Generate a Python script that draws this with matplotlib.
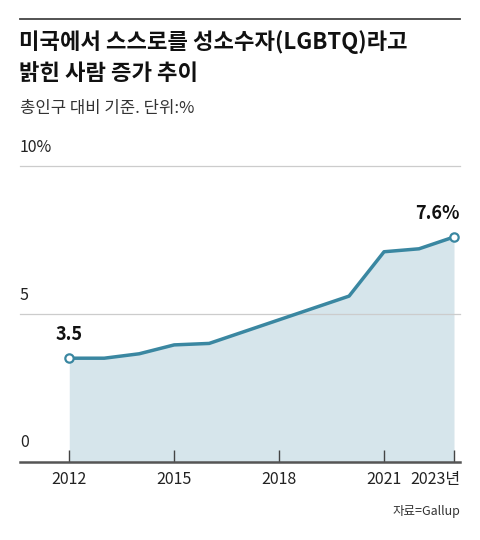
import matplotlib.pyplot as plt
from matplotlib.lines import Line2D

plt.rcParams['font.family'] = ['Noto Sans CJK KR', 'DejaVu Sans']

# 데이터 (Gallup, 총인구 대비 %)
years = [2012, 2013, 2014, 2015, 2016, 2020, 2021, 2022, 2023]
values = [3.5, 3.5, 3.65, 3.95, 4.0, 5.6, 7.1, 7.2, 7.6]
tick_years = [2012, 2015, 2018, 2021, 2023]
tick_labels = ['2012', '2015', '2018', '2021', '']

line_color = '#3a87a1'
fill_color = '#d6e5eb'

fig = plt.figure(figsize=(4.8, 5.4), dpi=100)
W, H = 480, 540

def fx(px):
    return px / W

def fy(py):
    return 1 - py / H

# 상단 선
fig.add_artist(Line2D([fx(20), fx(460)], [fy(19), fy(19)], color='#444444', lw=1.3))

fig.text(fx(19), fy(42), '미국에서 스스로를 성소수자(LGBTQ)라고', fontsize=16,
         fontweight='bold', va='center', ha='left', color='#111111')
fig.text(fx(19), fy(74), '밝힌 사람 증가 추이', fontsize=16,
         fontweight='bold', va='center', ha='left', color='#111111')
fig.text(fx(20), fy(108), '총인구 대비 기준. 단위:%', fontsize=12,
         va='center', ha='left', color='#333333')

ax = fig.add_axes([fx(20), fy(461.7), fx(440), (461.7 - 166) / H])
ax.set_xlim(2012 - 49.3 / 35, 2023 + 6 / 35)
ax.set_ylim(0, 10)

ax.fill_between(years, values, 0, color=fill_color, lw=0)
ax.plot(years, values, color=line_color, lw=2.5, solid_joinstyle='round', zorder=3)
ax.plot([years[0], years[-1]], [values[0], values[-1]], 'o', ms=6,
        mfc='white', mec=line_color, mew=1.6, zorder=4)

for v in [5, 10]:
    ax.axhline(v, color='#cccccc', lw=0.9, zorder=1, clip_on=False)
ax.axhline(0, color='#555555', lw=1.8, zorder=5, clip_on=False)

for s in ax.spines.values():
    s.set_visible(False)
ax.set_yticks([])
ax.set_xticks(tick_years)
ax.set_xticklabels(tick_labels, fontsize=11.5, color='#222222')
ax.tick_params(axis='x', direction='in', length=9, width=1, color='#444444', pad=7)
ax.text(1.0, -7 / 72 * 100 / (461.7 - 166) - 0.0, '2023년', transform=ax.transAxes,
        ha='right', va='top', fontsize=11.5, color='#222222')

# y축 라벨
ax.text(0, 0.35, '0', transform=ax.get_yaxis_transform(), ha='left', va='bottom',
        fontsize=11.5, color='#222222')
ax.text(0, 5.35, '5', transform=ax.get_yaxis_transform(), ha='left', va='bottom',
        fontsize=11.5, color='#222222')
ax.text(0, 10.35, '10%', transform=ax.get_yaxis_transform(), ha='left', va='bottom',
        fontsize=11.5, color='#222222', clip_on=False)

ax.annotate('3.5', (years[0], values[0]), xytext=(0, 10), textcoords='offset points',
            ha='center', va='bottom', fontsize=13, fontweight='bold', color='#111111')
ax.annotate('7.6%', (years[-1], values[-1]), xytext=(4, 10), textcoords='offset points',
            ha='right', va='bottom', fontsize=13, fontweight='bold', color='#111111')

fig.text(fx(460), fy(512), '자료=Gallup', fontsize=9, ha='right', va='center', color='#333333')

fig.savefig('out.png', dpi=100)
